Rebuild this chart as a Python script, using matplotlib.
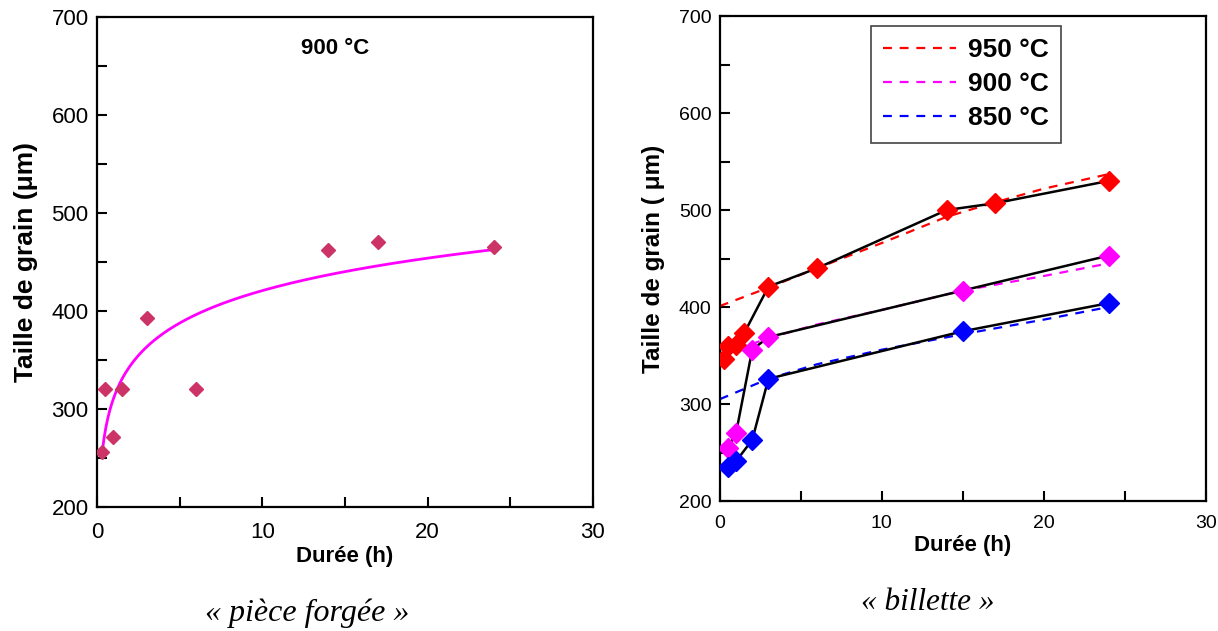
import numpy as np
import matplotlib
matplotlib.use("Agg")
import matplotlib.pyplot as plt
from matplotlib.ticker import MultipleLocator

plt.rcParams['font.family'] = ['Liberation Sans', 'DejaVu Sans']

# « pièce forgée » - 900 °C
forge_t = [0.3, 0.5, 1, 1.5, 3, 6, 14, 17, 24]
forge_d = [256, 320, 271, 320, 393, 320, 462, 470, 465]

# « billette » - mesures
t950 = [0.25, 0.5, 1, 1.5, 3, 6, 14, 17, 24]
d950 = [346, 360, 361, 373, 421, 440, 500, 507, 530]
t900 = [0.5, 1, 2, 3, 15, 24]
d900 = [255, 270, 356, 369, 417, 453]
t850 = [0.5, 1, 2, 3, 15, 24]
d850 = [235, 241, 263, 326, 375, 404]

# « billette » - courbes de tendance
fit950_t = [0, 3, 6, 10, 14, 17, 20, 24]
fit950_d = [401, 420, 440, 466, 493, 508, 522, 537]
fit900_t = [0, 3, 6, 10, 15, 20, 24]
fit900_d = [350, 368, 382, 397, 417, 432, 445]
fit850_t = [0, 3, 6, 10, 15, 20, 24]
fit850_d = [305, 326, 341, 356, 372, 387, 400]

fig = plt.figure(figsize=(12.18, 6.31), dpi=100)
ax1 = fig.add_axes([0.0796, 0.1965, 0.4072, 0.7765])
ax2 = fig.add_axes([0.591, 0.206, 0.399, 0.7686])


def style_axes(ax, tick_size, xpad):
    ax.set_xlim(0, 30)
    ax.set_ylim(200, 700)
    ax.xaxis.set_major_locator(MultipleLocator(10))
    ax.xaxis.set_minor_locator(MultipleLocator(5))
    ax.yaxis.set_major_locator(MultipleLocator(100))
    ax.yaxis.set_minor_locator(MultipleLocator(50))
    ax.tick_params(which='both', direction='in', length=7, width=1.5,
                   top=False, right=False)
    ax.tick_params(axis='y', which='major', labelsize=tick_size, pad=6)
    ax.tick_params(axis='x', which='major', labelsize=tick_size, pad=xpad)
    for sp in ax.spines.values():
        sp.set_linewidth(1.6)


# --- gauche
style_axes(ax1, 16, 11)
lt = np.log(forge_t)
b, a = np.polyfit(lt, forge_d, 1)
xs = np.linspace(min(forge_t), max(forge_t), 200)
ax1.plot(xs, a + b * np.log(xs), color='#FF00FF', lw=2, zorder=2)
ax1.plot(forge_t, forge_d, 'D', color='#CC3366', ms=7, mec='#CC3366', zorder=3)
ax1.text(14.4, 668, "900 °C", fontsize=16, fontweight='bold', ha='center', va='center')
ax1.set_xlabel("Durée (h)", fontsize=16, fontweight='bold', labelpad=2)
ax1.set_ylabel("Taille de grain (μm)", fontsize=19, fontweight='bold', labelpad=10)

# --- droite
style_axes(ax2, 14, 10)
dash = (4, 3.5)
l950, = ax2.plot(fit950_t, fit950_d, '--', color='red', lw=1.6, dashes=dash)
l900, = ax2.plot(fit900_t, fit900_d, '--', color='#FF00FF', lw=1.6, dashes=dash)
l850, = ax2.plot(fit850_t, fit850_d, '--', color='blue', lw=1.6, dashes=dash)
for t, d, c in [(t950, d950, 'red'), (t900, d900, '#FF00FF'), (t850, d850, 'blue')]:
    ax2.plot(t, d, '-', color='black', lw=1.8, zorder=3)
    ax2.plot(t, d, 'D', color=c, ms=10, zorder=4)
leg = ax2.legend([l950, l900, l850], ["950 °C", "900 °C", "850 °C"],
                 loc='upper left', bbox_to_anchor=(0.311, 0.979),
                 prop={'size': 19, 'weight': 'bold'}, fancybox=False,
                 framealpha=1, edgecolor='#444444', handlelength=2.75,
                 labelspacing=0.38, borderpad=0.46, handletextpad=0.45,
                 borderaxespad=0)
leg.get_frame().set_linewidth(1.2)
ax2.set_xlabel("Durée (h)", fontsize=16, fontweight='bold', labelpad=2)
ax2.set_ylabel("Taille de grain ( μm)", fontsize=17.5, fontweight='bold', labelpad=10)

# --- légendes sous les graphiques
fig.text(307 / 1218, 1 - 613 / 631, "« pièce forgée »", fontsize=23, style='italic',
         family=['Liberation Serif', 'DejaVu Serif'], ha='center', va='center')
fig.text(928 / 1218, 1 - 603 / 631, "« billette »", fontsize=22.5, style='italic',
         family=['Liberation Serif', 'DejaVu Serif'], ha='center', va='center')

fig.savefig("out.png", dpi=100)
